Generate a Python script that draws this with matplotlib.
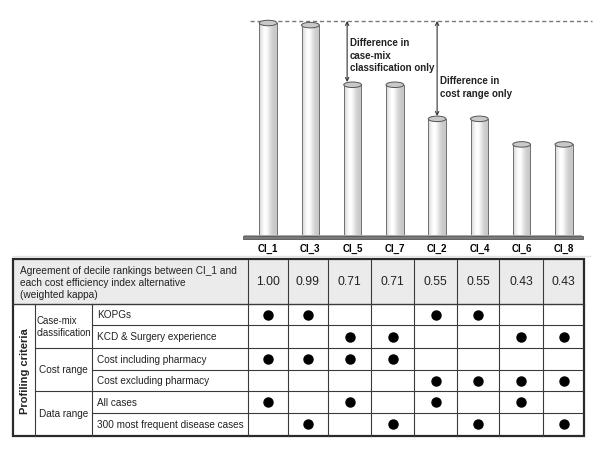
import matplotlib
matplotlib.use("Agg")
import matplotlib.pyplot as plt
import numpy as np
from matplotlib.patches import Rectangle, Ellipse

plt.rcParams['font.family'] = ['Liberation Sans', 'DejaVu Sans']

# ---------------- data ----------------
indices = ["CI_1", "CI_3", "CI_5", "CI_7", "CI_2", "CI_4", "CI_6", "CI_8"]
kappa = [1.00, 0.99, 0.71, 0.71, 0.55, 0.55, 0.43, 0.43]
kappa_labels = ["1.00", "0.99", "0.71", "0.71", "0.55", "0.55", "0.43", "0.43"]

header_text = ("Agreement of decile rankings between CI_1 and\n"
               "each cost efficiency index alternative\n(weighted kappa)")
side_label = "Profiling criteria"
groups = ["Case-mix\nclassification", "Cost range", "Data range"]
criteria = ["KOPGs", "KCD & Surgery experience", "Cost including pharmacy",
            "Cost excluding pharmacy", "All cases", "300 most frequent disease cases"]
criteria_group = [0, 0, 1, 1, 2, 2]
used = [
    [1, 1, 0, 0, 1, 1, 0, 0],
    [0, 0, 1, 1, 0, 0, 1, 1],
    [1, 1, 1, 1, 0, 0, 0, 0],
    [0, 0, 0, 0, 1, 1, 1, 1],
    [1, 0, 1, 0, 1, 0, 1, 0],
    [0, 1, 0, 1, 0, 1, 0, 1],
]
annot1 = "Difference in\ncase-mix\nclassification only"
annot2 = "Difference in\ncost range only"

# ---------------- figure ----------------
W, H = 600, 456
fig = plt.figure(figsize=(6, 4.56), dpi=100)

# table axes in pixel coordinates
tax = fig.add_axes([0, 0, 1, 1])
tax.set_xlim(0, W)
tax.set_ylim(H, 0)
tax.axis('off')

xe = [13, 35, 92, 248, 288, 328, 371, 414, 457, 499, 543, 584]
ye = [260, 305, 326, 349, 371, 392, 414, 437]
vx = xe[3:]
ccent = [(vx[i] + vx[i + 1]) / 2 for i in range(len(kappa))]
rcent = [(ye[i + 1] + ye[i + 2]) / 2 for i in range(len(criteria))]

tax.plot([13, 590], [257, 257], color='#e2e2e2', lw=1)
tax.add_patch(Rectangle((xe[0], ye[0]), xe[-1] - xe[0], ye[1] - ye[0],
                        facecolor='#ebebeb', edgecolor='none'))
lc = '#3a3a3a'
for x in xe[1:3]:
    tax.plot([x, x], [ye[1], ye[-1]], color=lc, lw=0.8)
for x in vx[:-1]:
    tax.plot([x, x], [ye[0], ye[-1]], color=lc, lw=0.8)
tax.plot([xe[0], xe[-1]], [ye[1], ye[1]], color=lc, lw=1.0)
for r in range(1, len(criteria)):
    y = ye[r + 1]
    x0 = xe[1] if criteria_group[r] != criteria_group[r - 1] else xe[2]
    tax.plot([x0, xe[-1]], [y, y], color=lc, lw=0.8)
tax.add_patch(Rectangle((xe[0], ye[0]), xe[-1] - xe[0], ye[-1] - ye[0],
                        facecolor='none', edgecolor='#2a2a2a', lw=1.6))

tax.text(20, (ye[0] + ye[1]) / 2 + 1, header_text, ha='left', va='center',
         fontsize=7.3, linespacing=1.25, color='#222')
for c, lab in enumerate(kappa_labels):
    tax.text(ccent[c], (ye[0] + ye[1]) / 2, lab, ha='center', va='center',
             fontsize=8.7, color='#222')
for r, lab in enumerate(criteria):
    tax.text(97, rcent[r], lab, ha='left', va='center', fontsize=7.2, color='#222')
for g, lab in enumerate(groups):
    rows = [r for r in range(len(criteria)) if criteria_group[r] == g]
    yc = (ye[rows[0] + 1] + ye[rows[-1] + 2]) / 2
    tax.text((xe[1] + xe[2]) / 2, yc, lab, ha='center', va='center',
             multialignment='left', fontsize=6.9 if '\n' in lab else 7.2,
             color='#222', linespacing=1.3)
tax.text((xe[0] + xe[1]) / 2 + 1, (ye[1] + ye[-1]) / 2, side_label, rotation=90,
         ha='center', va='center', fontsize=8, fontweight='bold', color='#222')

dx, dy = [], []
for r, row in enumerate(used):
    for c, v in enumerate(row):
        if v:
            dx.append(ccent[c])
            dy.append(rcent[r])
tax.plot(dx, dy, 'o', color='black', ms=6.5, ls='none')

# ---------------- cylinder bar axes ----------------
ax_left, ax_right, ax_top, ax_bot, base_px, unit_px = 247, 585, 10, 240, 237, 213
ax = fig.add_axes([ax_left / W, 1 - ax_bot / H, (ax_right - ax_left) / W,
                   (ax_bot - ax_top) / H])
ax.patch.set_alpha(0)
ylim = (-(ax_bot - base_px) / unit_px, (base_px - ax_top) / unit_px)
n = len(kappa)
w = 0.42
eh = 5.5 / unit_px
t = np.linspace(0, 1, 64)
prof = 0.78 + 0.22 * np.exp(-((t - 0.35) / 0.3) ** 2)
grad = prof[np.newaxis, :]
for i, v in enumerate(kappa):
    im = ax.imshow(grad, extent=(i - w / 2, i + w / 2, 0, v), cmap='gray',
                   vmin=0, vmax=1, aspect='auto', interpolation='bilinear', zorder=2)
    clip = Rectangle((i - w / 2, 0), w, v, transform=ax.transData)
    im.set_clip_path(clip)
    ax.add_patch(Rectangle((i - w / 2, 0), w, v, facecolor='none',
                           edgecolor='#707070', lw=0.7, zorder=3))
    ax.add_patch(Ellipse((i, v), w, eh, facecolor='#c9c9c9', edgecolor='#555555',
                         lw=0.7, zorder=4, clip_on=False))

# ground slab
ax.add_patch(Rectangle((-0.6, -0.013), 8.05, 0.011, facecolor='#7a7a7a',
                       edgecolor='#555555', lw=0.6, zorder=5, clip_on=False))
ax.add_patch(Rectangle((-0.57, -0.002), 8.0, 0.009, facecolor='#a8a8a8',
                       edgecolor='none', zorder=5, clip_on=False))

# reference dashed line
ax.plot([-0.43, 7.67], [1.01, 1.01], ls=(0, (3, 2)), color='#7a7a7a', lw=1,
        clip_on=False, zorder=1)

# annotations
ax.annotate('', xy=(1.87, kappa[2] + eh / 2), xytext=(1.87, 1.01),
            arrowprops=dict(arrowstyle='<->', color='#333333', lw=0.8,
                            shrinkA=0, shrinkB=0, mutation_scale=6))
ax.text(1.94, 0.935, annot1, ha='left', va='top', fontsize=7,
        fontweight='bold', linespacing=1.35, color='#222')
ax.annotate('', xy=(4.0, kappa[4] + eh / 2), xytext=(4.0, 1.01),
            arrowprops=dict(arrowstyle='<->', color='#333333', lw=0.8,
                            shrinkA=0, shrinkB=0, mutation_scale=6))
ax.text(4.07, 0.755, annot2, ha='left', va='top', fontsize=7,
        fontweight='bold', linespacing=1.35, color='#222')

ax.set_xlim(-0.5, n - 0.5)
ax.set_ylim(*ylim)
ax.set_xticks(range(n), indices, fontsize=7, fontweight='bold')
ax.set_yticks([])
ax.tick_params(length=0, pad=3)
for s in ax.spines.values():
    s.set_visible(False)

fig.savefig('out.png', dpi=100)
